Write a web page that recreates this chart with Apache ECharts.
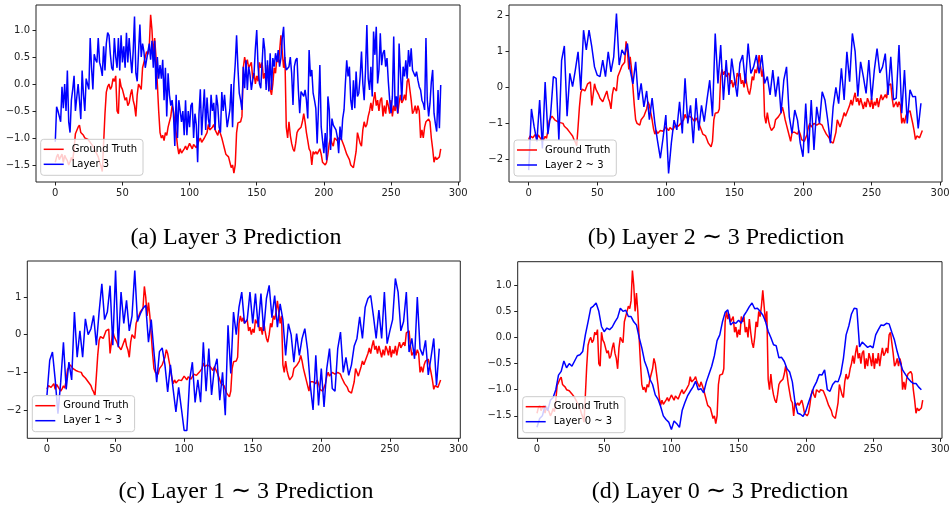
<!DOCTYPE html>
<html>
<head>
<meta charset="utf-8">
<script src="https://cdn.jsdelivr.net/npm/echarts@6/dist/echarts.min.js"></script>
<style>
  html, body { margin: 0; padding: 0; background: #fff; }
  #main { width: 950px; height: 506px; }
</style>
</head>
<body>
<div id="main"></div>
<script>
// ground truth, one value per time step (0..287)
const groundTruth = [
  -1.45,-1.35,-1.3,-1.4,-1.38,-1.3,-1.45,-1.32,-1.38,-1.42,
  -1.5,-1.44,-1.36,-1.42,-1.2,-0.92,-0.86,-0.8,-0.76,-0.9,
  -0.88,-0.95,-1.0,-0.98,-1.02,-1.0,-1.08,-1.1,-1.15,-1.2,
  -1.25,-1.3,-1.35,-1.45,-1.52,-1.62,-1.1,-0.55,-0.15,-0.05,
  0.0,-0.1,-0.05,0.1,0.05,0.15,-0.5,-0.55,0.1,-0.05,
  -0.1,-0.2,-0.3,-0.25,-0.4,-0.35,-0.2,-0.1,-0.3,-0.4,
  -0.6,-0.2,0.0,-0.05,-0.1,0.3,0.4,0.5,0.6,0.55,
  0.7,1.28,1.0,0.5,0.85,0.5,0.0,-0.5,-0.9,-1.0,
  -0.95,-1.05,-0.9,-0.95,-0.8,-0.7,-0.6,-0.4,-0.5,-0.7,
  -0.9,-1.15,-1.3,-1.2,-1.28,-1.3,-1.2,-1.15,-1.22,-1.25,
  -1.1,-1.15,-1.2,-1.12,-1.1,-1.18,-1.15,-1.05,-1.0,-1.08,
  -1.05,-1.0,-1.02,-0.9,-0.75,-0.85,-0.82,-0.8,-0.75,-0.85,
  -0.9,-0.95,-0.85,-0.92,-1.0,-1.1,-1.2,-1.3,-1.28,-1.35,
  -1.45,-1.55,-1.5,-1.65,-1.5,-0.9,-0.72,-0.72,-0.7,-0.6,
  0.3,0.5,0.35,0.45,0.3,0.3,0.4,0.1,0.2,0.0,
  0.15,0.05,0.4,0.3,0.4,0.1,0.2,0.0,0.35,0.1,
  -0.1,-0.2,0.0,0.3,0.2,0.5,0.4,0.6,0.9,0.6,
  0.3,0.5,-0.8,-1.0,-0.7,-0.95,-1.1,-1.2,-1.25,-1.1,
  -0.9,-0.85,-0.82,-0.8,-0.7,-0.55,-0.7,-0.9,-1.05,-1.2,
  -1.25,-1.5,-1.25,-1.3,-1.25,-1.3,-1.3,-1.2,-1.3,-1.45,
  -1.45,-1.5,-1.45,-1.3,-1.1,-1.0,-1.1,-1.15,-1.0,-1.02,
  -1.05,-1.0,-1.0,-1.02,-1.05,-1.15,-1.15,-1.3,-1.3,-1.4,
  -1.5,-1.52,-1.55,-1.57,-1.25,-0.9,-0.9,-1.1,-1.15,-0.85,
  -0.7,-0.8,-0.75,-0.6,-0.5,-0.35,-0.5,-0.3,-0.15,-0.4,
  -0.3,-0.5,-0.3,-0.25,-0.6,-0.4,-0.55,-0.3,-0.4,-0.55,
  -0.3,-0.6,-0.4,-0.5,-0.3,-0.55,-0.35,-0.2,-0.35,-0.3,
  -0.2,-0.3,0.05,0.1,0.1,-0.3,-0.55,-0.5,-0.4,-0.55,
  -0.4,-0.5,-1.0,-0.85,-1.0,-0.8,-0.7,-0.7,-0.65,-0.7,
  -1.0,-1.2,-1.45,-1.35,-1.4,-1.4,-1.35,-1.2
];

// layer 3 prediction, one value per time step
const layer3 = [
  -1.07,-0.42,-0.5,-0.6,-0.7,-0.05,-0.45,0.0,-0.5,0.25,
  -0.7,-0.9,-0.3,-0.1,0.15,-0.5,-0.5,0.0,-0.3,-0.65,
  0.25,-0.2,-0.5,0.1,0.0,-0.1,0.85,0.3,-0.1,0.55,
  0.45,0.4,0.85,0.4,0.3,0.15,0.7,0.25,0.75,0.95,
  0.9,0.55,0.3,0.25,0.85,0.5,0.3,0.85,0.25,0.9,
  0.4,0.7,0.3,0.95,0.4,0.85,0.5,0.2,0.6,1.25,
  0.2,0.05,0.6,1.1,0.5,0.75,0.6,0.3,0.45,0.6,
  0.75,0.45,0.8,0.3,0.8,-0.1,0.5,0.1,0.35,0.1,
  0.45,-0.3,0.3,-0.6,0.2,-0.2,-0.4,-0.3,-0.55,-1.15,
  -0.2,-1.0,-0.3,-0.5,-0.7,-0.5,-0.95,-0.3,-0.95,-0.5,
  -0.8,-0.4,-0.35,-1.0,-0.55,-0.75,-1.45,-0.55,-0.1,-0.95,
  -0.5,-0.1,-0.85,-0.25,-0.65,-0.8,-0.2,-0.5,-0.35,-0.85,
  -0.2,-0.4,-0.8,-0.9,-0.15,-0.5,-0.2,-0.5,-0.8,-0.8,
  -0.48,0.0,-0.8,0.0,0.38,0.9,0.3,-0.17,-0.3,-0.48,
  0.32,-0.08,0.44,-0.11,0.32,0.17,-0.11,0.07,0.2,0.66,
  1.0,0.32,0.01,-0.08,-0.08,0.85,0.63,-0.11,0.44,-0.14,
  0.57,-0.11,0.48,0.32,0.57,0.41,0.63,0.32,0.48,0.85,
  1.06,0.44,0.26,0.23,0.32,0.5,0.2,-0.39,0.32,0.44,
  0.48,-0.11,-0.54,-0.14,-0.14,-0.23,-0.11,-0.3,-0.64,0.63,
  0.14,0.26,-0.17,-0.3,-0.45,-1.1,-0.42,0.35,-0.79,-1.04,
  -1.28,-0.91,-1.41,-0.23,-0.48,-1.22,-0.64,-0.76,-0.79,-0.85,
  -0.98,-1.28,-0.79,-1.04,-0.64,-0.48,0.01,0.44,0.14,0.32,
  -0.3,-0.48,0.07,-0.45,0.23,-0.23,-0.17,0.14,0.6,0.01,
  -0.3,0.26,1.09,0.1,-0.11,0.32,-0.23,0.97,0.54,1.06,
  0.01,0.26,0.94,0.35,0.57,0.63,0.32,0.48,0.04,-0.3,
  -0.54,-0.23,0.88,-0.42,-0.23,-0.54,0.75,0.78,-0.3,0.32,
  0.14,0.44,0.1,0.63,0.32,0.66,0.26,0.2,0.14,0.23,
  0.07,-0.05,-0.11,-0.3,-0.36,-0.48,0.85,-0.3,-0.6,-0.36,
  0.04,0.26,-0.54,-0.73,-0.88,-0.11,-0.82,-0.02
];

// the other predictions were read every second time step (0, 2, ..., 286)
const layer2to3 = [
  -2.3,-0.6,-1.1,-1.5,-0.35,-1.7,0.15,-1.3,-0.75,0.3,
  0.25,-1.46,0.75,1.15,-0.8,0.39,0.02,0.48,0.99,-0.07,
  1.59,1.04,1.59,1.13,0.57,0.34,0.3,0.76,0.3,0.99,
  0.43,0.85,2.05,0.62,1.04,0.9,1.22,0.48,0.1,0.71,
  -0.35,0.11,-0.54,-0.1,-0.9,-0.3,-1.0,-1.5,-1.97,-1.4,
  -0.77,-2.39,-1.55,-0.91,-1.18,-0.4,-1.28,0.25,-1.0,-0.5,
  -1.55,-0.3,-1.2,-0.5,-0.95,-0.35,0.2,-0.8,1.5,0.11,
  1.18,-0.35,0.76,-0.21,0.8,0.25,-0.26,0.67,0.9,0.11,
  1.22,0.39,0.57,0.9,0.39,0.9,0.11,0.3,-0.21,0.48,
  -0.26,0.3,-0.72,0.2,0.57,-0.81,-1.28,-0.63,-0.91,-1.55,
  -1.93,-0.45,-1.83,-0.35,-1.74,-0.54,-1.0,-0.12,-0.35,-0.9,
  -1.55,-0.54,0.0,-0.45,0.53,-0.35,0.99,0.16,1.5,1.0,
  -0.25,0.71,0.3,-0.17,0.76,-0.35,0.48,1.08,0.4,0.57,
  0.94,-0.21,0.85,-0.35,-0.3,1.18,-0.72,0.48,-1.0,-0.07,
  -0.26,-0.25,-1.14,-0.44
];

const layer1to3 = [
  -1.6,-0.68,-0.46,-1.2,-2.1,-1.26,-0.2,-1.45,-0.73,-1.2,
  0.6,-0.6,0.1,-0.6,0.42,0.0,0.15,0.51,-0.28,0.6,
  1.35,0.4,0.6,1.3,-0.28,1.7,-0.33,1.13,0.3,0.91,
  0.1,0.5,1.7,0.35,0.55,0.7,0.78,-0.2,0.4,-0.46,
  -1.26,-0.45,-0.35,-0.8,-1.52,-0.8,-1.45,-2.05,-1.4,-1.96,
  -2.54,-2.54,-1.2,-0.73,-1.8,-1.2,-1.79,-0.2,-1.5,-0.37,
  -1.6,-0.9,-0.64,-1.74,-1.0,-2.14,0.25,-1.03,0.6,0.0,
  0.73,1.13,0.3,0.4,1.13,0.3,1.09,0.2,1.09,0.1,
  0.96,1.31,0.45,1.04,0.2,0.82,0.4,-0.55,0.29,0.0,
  -0.73,0.03,-0.55,-0.1,0.16,-0.4,-1.35,-2.0,-0.55,-1.88,
  -0.9,-1.92,-0.9,-0.37,-1.43,-1.5,-0.37,0.07,-1.0,-0.6,
  -1.08,-0.8,-0.3,-0.1,0.47,-0.1,0.73,0.96,1.04,0.5,
  -0.1,0.65,-0.1,1.13,-0.24,0.1,0.4,1.49,1.13,0.1,
  0.35,1.13,-0.46,-0.1,-0.64,1.0,-0.37,-0.55,-0.15,-1.07,
  -0.6,-0.1,-1.35,-0.37
];

const layer0to3 = [
  -1.72,-1.55,-1.5,-1.3,-1.4,-1.2,-1.15,-1.0,-0.72,-0.65,
  -0.45,-0.58,-0.5,-0.55,-0.45,-0.35,-0.33,-0.27,0.05,0.3,
  0.56,0.6,0.66,0.5,0.21,0.11,0.18,0.15,0.2,0.3,
  0.38,0.56,0.5,0.52,0.4,0.4,0.3,0.24,0.0,-0.2,
  -0.45,-0.59,-0.8,-0.9,-1.1,-1.18,-1.32,-1.5,-1.57,-1.62,
  -1.76,-1.6,-1.65,-1.72,-1.4,-1.25,-1.12,-1.03,-0.95,-0.84,
  -1.0,-0.98,-1.06,-0.85,-0.7,-0.55,-0.35,-0.06,0.05,0.3,
  0.48,0.53,0.24,0.29,0.27,0.33,0.27,0.42,0.5,0.59,
  0.66,0.55,0.56,0.5,0.43,0.31,0.12,0.0,-0.14,-0.16,
  -0.39,-0.38,-0.46,-0.6,-0.66,-0.85,-1.25,-1.45,-1.47,-1.51,
  -1.41,-1.25,-1.1,-0.95,-0.85,-0.71,-0.72,-0.62,-1.0,-1.03,
  -0.9,-0.84,-0.85,-0.7,-0.4,0.05,0.22,0.45,0.56,0.55,
  -0.18,-0.09,-0.14,-0.19,-0.16,-0.2,0.05,0.15,0.24,0.23,
  0.27,0.26,0.1,-0.05,-0.27,-0.45,-0.62,-0.7,-0.78,-0.84,
  -0.88,-0.88,-0.95,-1.0
];

const xTicks = [0, 50, 100, 150, 200, 250, 300];
const yTicksA = [-1.5, -1.0, -0.5, 0.0, 0.5, 1.0];
const yTicksB = [-2, -1, 0, 1, 2];
const yTicksC = [-2, -1, 0, 1];
const yTicksD = [-1.5, -1.0, -0.5, 0.0, 0.5, 1.0];

const predNames = ['Layer 3', 'Layer 2 ~ 3', 'Layer 1 ~ 3', 'Layer 0 ~ 3'];
const captions = [
  '(a) Layer 3 Prediction',
  '(b) Layer 2 \u223C 3 Prediction',
  '(c) Layer 1 \u223C 3 Prediction',
  '(d) Layer 0 \u223C 3 Prediction'
];

const fine = arr => arr.map((v, i) => [i, v]);
const coarse = arr => arr.map((v, i) => [i * 2, v]);

const panels = [
  { grid: { left: 36, top: 5, width: 424, height: 177 }, yMin: -1.815, yMax: 1.463, ticks: yTicksA, dec: 1,
    pred: fine(layer3), legend: { left: 40.7, top: 139.3 }, cap: [236, 238] },
  { grid: { left: 509, top: 5, width: 433, height: 177 }, yMin: -2.63, yMax: 2.29, ticks: yTicksB, dec: 0,
    pred: coarse(layer2to3), legend: { left: 514, top: 140 }, cap: [716, 238] },
  { grid: { left: 27.3, top: 261, width: 433, height: 177.3 }, yMin: -2.75, yMax: 1.955, ticks: yTicksC, dec: 0,
    pred: coarse(layer1to3), legend: { left: 32.3, top: 395.7 }, cap: [246, 492] },
  { grid: { left: 517.7, top: 261.7, width: 424.3, height: 176.6 }, yMin: -1.93, yMax: 1.45, ticks: yTicksD, dec: 1,
    pred: coarse(layer0to3), legend: { left: 522.7, top: 396.7 }, cap: [720, 492] }
];

const tickFont = { fontSize: 10, fontFamily: 'DejaVu Sans', color: '#222' };
const fmt = dec => v => (v < 0 ? '\u2212' : '') + Math.abs(v).toFixed(dec);

const grid = [], xAxis = [], yAxis = [], series = [], legend = [], graphic = [];

panels.forEach((p, i) => {
  grid.push(Object.assign({ show: true, borderColor: '#222', borderWidth: 1, outerBoundsMode: 'none' }, p.grid));
  xAxis.push({
    type: 'value', gridIndex: i, min: -14.35, max: 301.35, position: 'bottom',
    axisLine: { show: false, onZero: false }, splitLine: { show: false },
    axisTick: { show: true, length: 3.5, customValues: xTicks, lineStyle: { color: '#222' } },
    axisLabel: Object.assign({ customValues: xTicks, margin: 6 }, tickFont)
  });
  yAxis.push({
    type: 'value', gridIndex: i, min: p.yMin, max: p.yMax, position: 'left',
    axisLine: { show: false, onZero: false }, splitLine: { show: false },
    axisTick: { show: true, length: 3.5, customValues: p.ticks, lineStyle: { color: '#222' } },
    axisLabel: Object.assign({ customValues: p.ticks, margin: 6, formatter: fmt(p.dec) }, tickFont)
  });
  series.push({
    name: 'Ground Truth', type: 'line', xAxisIndex: i, yAxisIndex: i,
    data: fine(groundTruth), showSymbol: false, symbol: 'none',
    color: '#ff0000', itemStyle: { color: '#ff0000' },
    lineStyle: { color: '#ff0000', width: 1.5 }, z: 2
  });
  series.push({
    name: predNames[i], type: 'line', xAxisIndex: i, yAxisIndex: i,
    data: p.pred, showSymbol: false, symbol: 'none',
    color: '#0000ff', itemStyle: { color: '#0000ff' },
    lineStyle: { color: '#0000ff', width: 1.5 }, z: 3
  });
  legend.push({
    left: p.legend.left, top: p.legend.top, orient: 'vertical',
    data: ['Ground Truth', predNames[i]],
    icon: 'rect', itemWidth: 20, itemHeight: 1.5, itemGap: 3,
    padding: [4, 6, 5, 3], selectedMode: false,
    backgroundColor: 'rgba(255,255,255,0.8)', borderColor: '#cccccc', borderWidth: 1, borderRadius: 3,
    textStyle: { fontSize: 10, fontFamily: 'DejaVu Sans', color: '#000', lineHeight: 12, padding: [0, 0, 0, 3] },
    z: 10
  });
  graphic.push({
    type: 'text', x: p.cap[0], y: p.cap[1],
    style: { text: captions[i], align: 'center', verticalAlign: 'middle',
      font: '24px "Liberation Serif", "Times New Roman", serif', fill: '#000' }
  });
});

const chart = echarts.init(document.getElementById('main'));
chart.setOption({
  animation: false,
  backgroundColor: '#fff',
  grid: grid, xAxis: xAxis, yAxis: yAxis, series: series, legend: legend, graphic: graphic
});
</script>
</body>
</html>
